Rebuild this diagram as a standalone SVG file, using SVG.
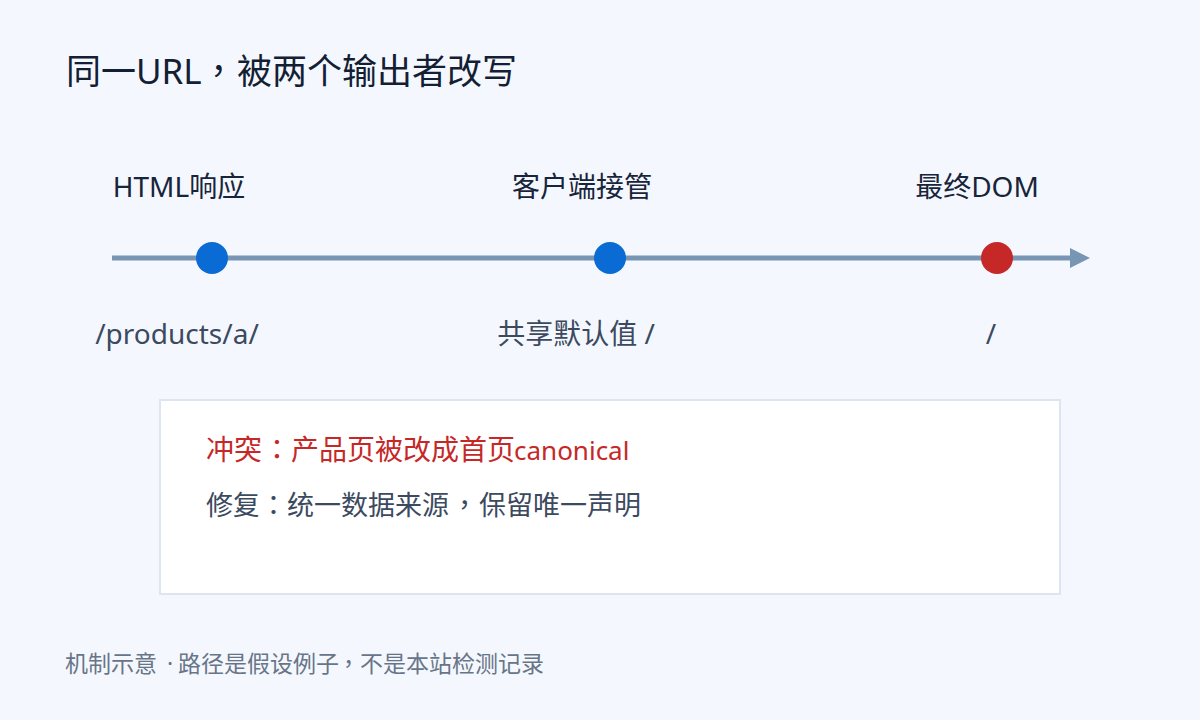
<svg xmlns="http://www.w3.org/2000/svg" width="1200" height="720" viewBox="0 0 1200 720">
<defs>
<style>
text{font-family:"Noto Sans","Noto Sans CJK TC",sans-serif;}
.title{font-size:35px;fill:#132033;}
.top{font-size:28px;fill:#18243a;text-anchor:middle;}
.bot{font-size:28px;fill:#3c4a5f;text-anchor:middle;}
.conf{font-size:28px;fill:#c62828;}
.fix{font-size:27px;fill:#3c4a5f;}
.foot{font-size:23px;fill:#687588;}
.lat{font-size:26px;}
.blue{fill:#0a6bd4;}
.red{fill:#c62828;}
</style>
<marker id="arr" viewBox="0 0 10 10" refX="0" refY="5" markerWidth="4" markerHeight="6" markerUnits="strokeWidth" orient="auto">
<path d="M0,0 L10,5 L0,10 Z" fill="#7896b3"/>
</marker>
</defs>
<rect width="1200" height="720" fill="#f4f8fe"/>
<text class="title" y="84"><tspan x="66">同一URL</tspan><tspan x="201">，</tspan><tspan x="237">被两个输出者改写</tspan></text>
<g id="connectors">
<line x1="112" y1="258" x2="1070" y2="258" stroke="#7896b3" stroke-width="5" marker-end="url(#arr)"/>
</g>
<g id="node-html">
<text class="top" x="179" y="197">HTML响应</text>
<circle class="blue" cx="212" cy="258" r="16"/>
<text class="bot" x="177" y="344">/products/a/</text>
</g>
<g id="node-client">
<text class="top" x="582" y="197">客户端接管</text>
<circle class="blue" cx="610" cy="258" r="16"/>
<text class="bot" x="576" y="344">共享默认值 /</text>
</g>
<g id="node-dom">
<text class="top" x="977" y="197">最终DOM</text>
<circle class="red" cx="997" cy="258" r="16"/>
<text class="bot" x="991" y="344">/</text>
</g>
<g id="note">
<rect x="160" y="400" width="900" height="194" fill="#ffffff" stroke="#dce5f1" stroke-width="2"/>
<text class="conf" y="460"><tspan x="206">冲突</tspan><tspan x="263">：</tspan><tspan x="291">产品页被改成首页</tspan><tspan x="514" class="lat">canonical</tspan></text>
<text class="fix" y="515"><tspan x="206">修复</tspan><tspan x="260">：</tspan><tspan x="287">统一数据来源</tspan><tspan x="451">，</tspan><tspan x="479">保留唯一声明</tspan></text>
</g>
<text class="foot" y="672"><tspan x="65">机制示意</tspan><tspan x="167">·</tspan><tspan x="178">路径是假设例子</tspan><tspan x="337">，</tspan><tspan x="360">不是本站检测记录</tspan></text>
</svg>
